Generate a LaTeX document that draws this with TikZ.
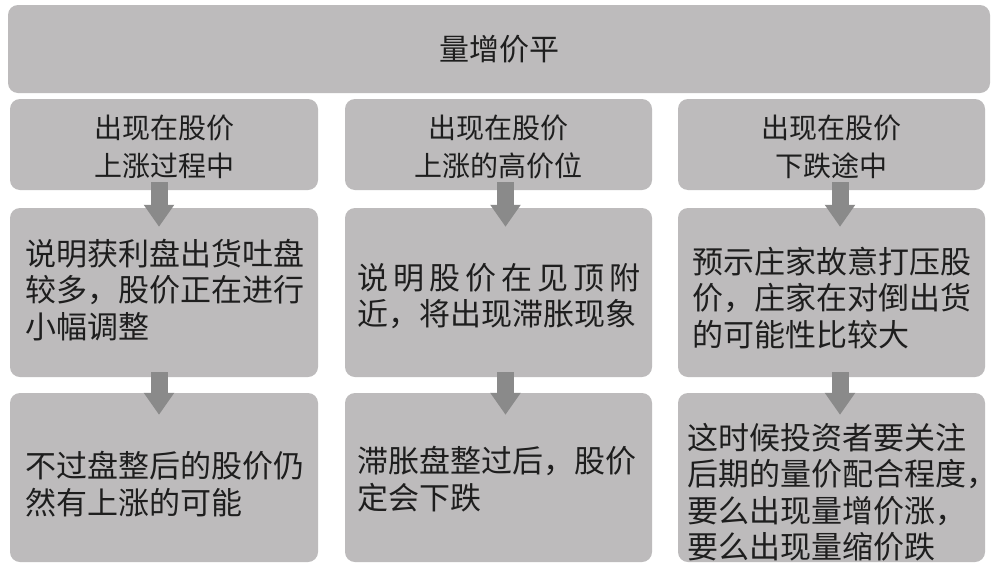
\documentclass[tikz,border=0pt]{standalone}
\usepackage{fontspec}
\setmainfont{Noto Sans CJK SC}
\usetikzlibrary{arrows.meta}
\definecolor{boxgray}{HTML}{BDBBBC}
\definecolor{arrgray}{HTML}{8A8A8A}
\definecolor{txtcol}{HTML}{1E1E1E}
\begin{document}
\begin{tikzpicture}[x=1pt,y=-1pt,
  box/.style={fill=boxgray, draw=none, rounded corners=10pt, inner sep=0pt},
  titletxt/.style={font=\fontsize{30pt}{36pt}\selectfont, text=txtcol, inner sep=0pt},
  headtxt/.style={font=\fontsize{28pt}{38pt}\selectfont, text=txtcol, align=center, inner sep=0pt},
  bodytxt/.style={font=\fontsize{31pt}{36.5pt}\selectfont, text=txtcol, align=left, inner sep=0pt, anchor=west},
  arr/.style={draw=arrgray, line width=17pt, -{Triangle[width=29pt,length=22pt,fill=arrgray]}}
]
\useasboundingbox (0,0) rectangle (1000,565);
\fill[white] (0,0) rectangle (1000,565);

% boxes
\node[box, minimum width=982pt, minimum height=88pt] (b0) at (499,49) {};
\node[box, minimum width=308pt, minimum height=91pt] (bL2) at (164,144.5) {};
\node[box, minimum width=307pt, minimum height=91pt] (bM2) at (498.5,144.5) {};
\node[box, minimum width=307pt, minimum height=91pt] (bR2) at (831.5,144.5) {};
\node[box, minimum width=308pt, minimum height=169pt] (bL3) at (164,292.5) {};
\node[box, minimum width=307pt, minimum height=169pt] (bM3) at (498.5,292.5) {};
\node[box, minimum width=307pt, minimum height=169pt] (bR3) at (831.5,292.5) {};
\node[box, minimum width=308pt, minimum height=169pt] (bL4) at (164,477.5) {};
\node[box, minimum width=307pt, minimum height=169pt] (bM4) at (498.5,477.5) {};
\node[box, minimum width=307pt, minimum height=169pt] (bR4) at (831.5,477.5) {};

% texts
\node[titletxt] (t0) at (b0.center) {量增价平};
\node[headtxt] (tL2) at (164,147) {出现在股价\\上涨过程中};
\node[headtxt] (tM2) at (498.5,147) {出现在股价\\上涨的高价位};
\node[headtxt] (tR2) at (831.5,147) {出现在股价\\下跌途中};

\node[bodytxt] (tL3) at (25,290) {说明获利盘出货吐盘\\较多，股价正在进行\\小幅调整};
\node[bodytxt] (tM3) at (357,296) {\makebox[283pt][s]{说 明 股 价 在 见 顶 附}\\近，将出现滞胀现象};
\node[bodytxt] (tR3) at (692,298) {预示庄家故意打压股\\价，庄家在对倒出货\\的可能性比较大};

\node[bodytxt] (tL4) at (25,484) {不过盘整后的股价仍\\然有上涨的可能};
\node[bodytxt] (tM4) at (357,479) {滞胀盘整过后，股价\\定会下跌};
\node[bodytxt] (tR4) at (687,492) {这时候投资者要关注\\后期的量价配合程度\makebox[0.3em][l]{，}\\要么出现量增价涨，\\要么出现量缩价跌};

% arrows
\draw[arr] ([xshift=-5pt,yshift=8pt]bL2.south) -- ([xshift=-5pt,yshift=-19pt]bL3.north);
\draw[arr] ([xshift=7pt,yshift=8pt]bM2.south) -- ([xshift=7pt,yshift=-19pt]bM3.north);
\draw[arr] ([xshift=8.5pt,yshift=8pt]bR2.south) -- ([xshift=8.5pt,yshift=-19pt]bR3.north);
\draw[arr] ([xshift=-5pt,yshift=5pt]bL3.south) -- ([xshift=-5pt,yshift=-22pt]bL4.north);
\draw[arr] ([xshift=7pt,yshift=5pt]bM3.south) -- ([xshift=7pt,yshift=-22pt]bM4.north);
\draw[arr] ([xshift=8.5pt,yshift=5pt]bR3.south) -- ([xshift=8.5pt,yshift=-22pt]bR4.north);
\end{tikzpicture}
\end{document}
